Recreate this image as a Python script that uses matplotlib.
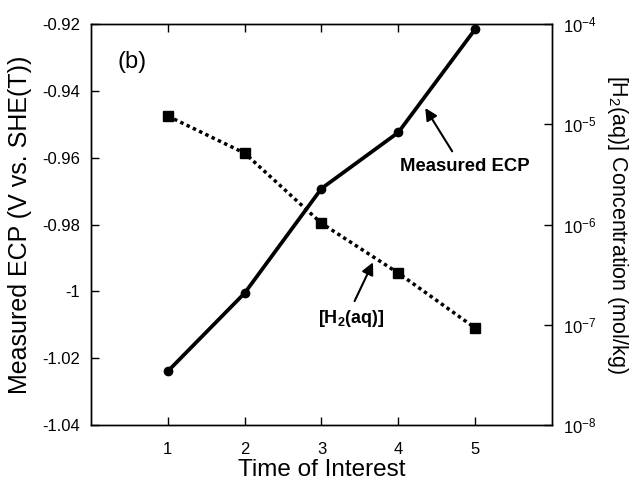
import matplotlib
matplotlib.use("Agg")
import matplotlib.pyplot as plt
from matplotlib.ticker import NullLocator, FixedLocator

plt.rcParams['font.family'] = ['Liberation Sans', 'DejaVu Sans']
plt.rcParams['mathtext.fontset'] = 'custom'
plt.rcParams['mathtext.rm'] = 'Liberation Sans'
plt.rcParams['mathtext.it'] = 'Liberation Sans:italic'
plt.rcParams['mathtext.bf'] = 'Liberation Sans:bold'

# data
time_points = [1, 2, 3, 4, 5]
ecp_values = [-1.0239, -1.0005, -0.9692, -0.9524, -0.9215]
h2_conc = [1.21e-5, 5.16e-6, 1.03e-6, 3.28e-7, 9.3e-8]

x_ticks = [1, 2, 3, 4, 5]
ecp_ticks = [-1.04, -1.02, -1.0, -0.98, -0.96, -0.94, -0.92]
ecp_tick_labels = ['-1.04', '-1.02', '-1', '-0.98', '-0.96', '-0.94', '-0.92']

fig = plt.figure(figsize=(6.43, 4.83), dpi=100)
ax1 = fig.add_axes([0.1415, 0.120, 0.717, 0.830])
ax2 = ax1.twinx()

# ECP (left axis)
ax1.plot(time_points, ecp_values, 'k-', linewidth=2.7, marker='o', markersize=6)
ax1.set_xlim(0, 6)
ax1.set_ylim(-1.04, -0.92)
ax1.set_xticks(x_ticks)
ax1.set_yticks(ecp_ticks)
ax1.set_yticklabels(ecp_tick_labels)
ax1.tick_params(axis='both', direction='in', length=6, width=1, labelsize=12,
                top=True, pad=8)
ax1.tick_params(axis='x', pad=12)
ax1.set_xlabel('Time of Interest', fontsize=17.5, labelpad=2)
ax1.set_ylabel('Measured ECP (V vs. SHE(T))', fontsize=18, labelpad=7)

# H2 concentration (right axis, log)
ax2.plot(time_points, h2_conc, color='k', linestyle=(0, (1, 1)), linewidth=2.5,
         marker='s', markersize=6.5)
ax2.set_yscale('log')
ax2.set_ylim(1e-8, 1e-4)
ax2.yaxis.set_major_locator(FixedLocator([1e-8, 1e-7, 1e-6, 1e-5, 1e-4]))
ax2.yaxis.set_minor_locator(NullLocator())
ax2.tick_params(axis='y', direction='in', length=6, width=1, labelsize=12, pad=8)
ax2.set_ylabel('[H$_2$(aq)] Concentration (mol/kg)', fontsize=15.5, rotation=270,
               labelpad=24)

for ax in (ax1, ax2):
    for sp in ax.spines.values():
        sp.set_linewidth(1)

# annotations
ax1.text(0.54, -0.9314, '(b)', fontsize=17, ha='center', va='center')
ax1.annotate('Measured ECP', xy=(4.35, -0.9451), xytext=(4.87, -0.9625),
             fontsize=13.3, fontweight='bold', ha='center', va='center',
             arrowprops=dict(arrowstyle='-|>', color='k', lw=1.5, relpos=(0.43, 1),
                             shrinkA=3, shrinkB=0, mutation_scale=18))
ax1.annotate('[H$_\\mathbf{2}$(aq)]', xy=(3.67, -0.9913), xytext=(3.39, -1.008),
             fontsize=13, fontweight='bold', ha='center', va='center',
             arrowprops=dict(arrowstyle='-|>', color='k', lw=1.5, relpos=(0.5, 1),
                             shrinkA=3, shrinkB=0, mutation_scale=18))

plt.savefig('out.png', dpi=100)
